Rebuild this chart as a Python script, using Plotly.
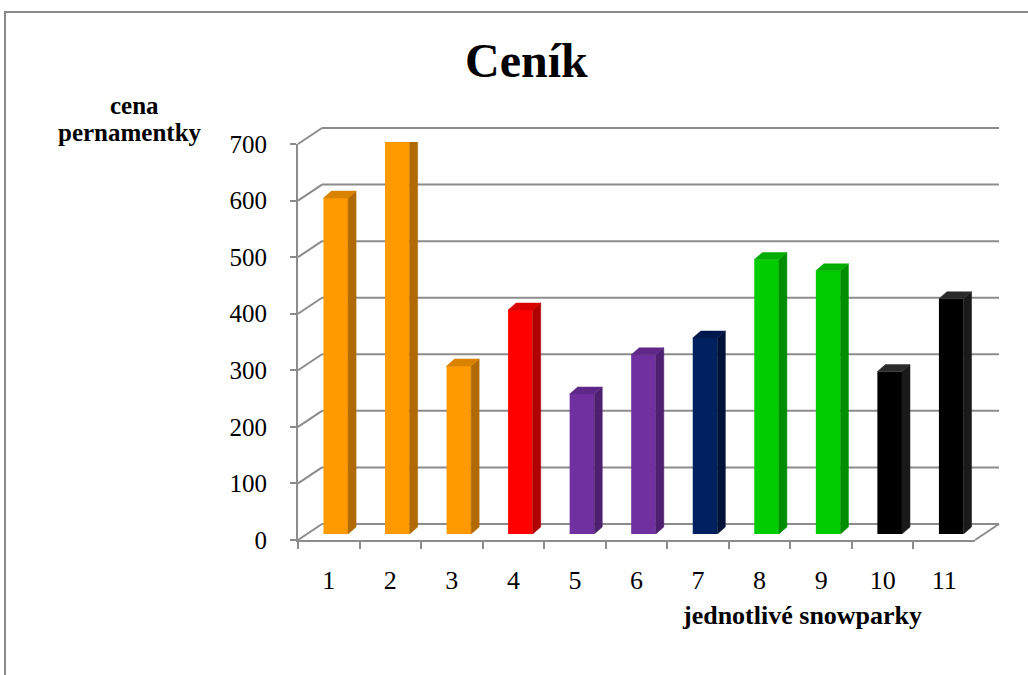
import plotly.graph_objects as go

W, H = 1028, 675

parks = ['1', '2', '3', '4', '5', '6', '7', '8', '9', '10', '11']
prices = [600, 700, 300, 400, 250, 320, 350, 490, 470, 290, 420]
front_colors = ['#FF9900', '#FF9900', '#FF9900', '#FF0000', '#7030A0', '#7030A0',
                '#002060', '#00CC00', '#00CC00', '#000000', '#000000']
side_colors = ['#B06A00', '#B06A00', '#B06A00', '#B00000', '#4E2170', '#4E2170',
               '#001238', '#008E00', '#008E00', '#1A1A1A', '#1A1A1A']
top_colors = ['#D98200', '#D98200', '#D98200', '#D90000', '#5F2888', '#5F2888',
              '#00184C', '#00AD00', '#00AD00', '#2A2A2A', '#2A2A2A']
yticks = [0, 100, 200, 300, 400, 500, 600, 700]

title_text = 'Ceník'
ytitle_lines = ['cena', 'pernamentky']
xtitle_text = 'jednotlivé snowparky'

# ---- geometry (pixels) ----
FX0, FX1 = 298, 975        # front x axis extent
FY0, FY1 = 540, 144        # front y of value 0 and 700
BACK_DX, BACK_DY = 24, 16  # back wall offset
BX0, BX1 = 305, 982        # bar plane x extent
BY0, BY1 = 534, 142        # bar plane y for 0 and 700
VMAX = 700


def px(x):
    return x / W


def py(y):
    return 1 - y / H


def yf(v):
    return FY0 - (FY0 - FY1) * v / VMAX


def yb(v):
    return yf(v) - BACK_DY


SERIF = 'Liberation Serif, Times New Roman, serif'
GRID = '#8C8C8C'

fig = go.Figure()

# invisible trace holding the front category axis
fig.add_trace(go.Scatter(x=parks, y=[0] * len(parks), mode='markers',
                         marker=dict(opacity=0), hoverinfo='skip',
                         showlegend=False, xaxis='x', yaxis='y'))

# bar front faces
xs = list(range(1, len(parks) + 1))
fig.add_trace(go.Bar(x=xs, y=prices, width=0.4, marker=dict(color=front_colors, line=dict(width=0)),
                     showlegend=False, xaxis='x2', yaxis='y2', hoverinfo='skip'))

# 3D side / top faces derived from the values
unit_px = (BX1 - BX0) / len(parks)
dx = 8 / unit_px
dy = 7 / ((BY0 - BY1) / VMAX)
h = 0.2
for x, v, sc, tc in zip(xs, prices, side_colors, top_colors):
    fig.add_trace(go.Scatter(
        x=[x + h, x + h + dx, x + h + dx, x + h, x + h],
        y=[0, dy, v + dy, v, 0], fill='toself', fillcolor=sc, mode='lines',
        line=dict(color=sc, width=0.5), showlegend=False, hoverinfo='skip',
        xaxis='x2', yaxis='y2'))
    fig.add_trace(go.Scatter(
        x=[x - h, x - h + dx, x + h + dx, x + h, x - h],
        y=[v, v + dy, v + dy, v, v], fill='toself', fillcolor=tc, mode='lines',
        line=dict(color=tc, width=0.5), showlegend=False, hoverinfo='skip',
        xaxis='x2', yaxis='y2'))

shapes = []
# outer frame
shapes.append(dict(type='rect', xref='paper', yref='paper', x0=px(5), x1=px(1040),
                   y0=py(700), y1=py(12), line=dict(color='#8A8A8A', width=2), layer='below'))
# back wall gridlines and side-wall diagonals
for v in yticks:
    shapes.append(dict(type='line', xref='paper', yref='paper',
                       x0=px(FX0 + BACK_DX), x1=px(FX1 + BACK_DX),
                       y0=py(yb(v)), y1=py(yb(v)), line=dict(color=GRID, width=2), layer='below'))
    shapes.append(dict(type='line', xref='paper', yref='paper',
                       x0=px(FX0), x1=px(FX0 + BACK_DX),
                       y0=py(yf(v)), y1=py(yb(v)), line=dict(color=GRID, width=2), layer='below'))
# floor right diagonal
shapes.append(dict(type='line', xref='paper', yref='paper',
                   x0=px(FX1), x1=px(FX1 + BACK_DX), y0=py(yf(0)), y1=py(yb(0)),
                   line=dict(color=GRID, width=2), layer='below'))

fig.update_layout(
    width=W, height=H,
    margin=dict(l=0, r=0, t=0, b=0, autoexpand=False),
    paper_bgcolor='white', plot_bgcolor='rgba(0,0,0,0)',
    showlegend=False,
    shapes=shapes,
    xaxis=dict(domain=[px(FX0), px(FX1)], type='category', categoryarray=parks,
               range=[-0.5, len(parks) - 0.5], anchor='y', automargin=False,
               showline=True, linecolor=GRID, linewidth=2,
               ticks='outside', tickson='boundaries', ticklen=7, tickwidth=2, tickcolor=GRID,
               showgrid=False, zeroline=False, ticklabelstandoff=16,
               tickfont=dict(family=SERIF, size=26, color='black')),
    yaxis=dict(domain=[py(FY0), py(FY1)], range=[0, VMAX], anchor='x', automargin=False,
               tickvals=yticks, showline=True, linecolor=GRID, linewidth=2,
               ticks='outside', ticklen=6, tickwidth=2, tickcolor=GRID,
               showgrid=False, zeroline=False, ticklabelstandoff=18,
               tickfont=dict(family=SERIF, size=25, color='black')),
    xaxis2=dict(domain=[px(BX0), px(BX1)], range=[0.5, len(parks) + 0.5], anchor='y2',
                visible=False, fixedrange=True),
    yaxis2=dict(domain=[py(BY0), py(BY1)], range=[0, VMAX], anchor='x2',
                visible=False, fixedrange=True),
    annotations=[
        dict(text='<b>' + title_text + '</b>', xref='paper', yref='paper',
             x=px(526), y=py(60), showarrow=False, xanchor='center', yanchor='middle',
             font=dict(family=SERIF, size=48, color='black')),
        dict(text='<b>' + ytitle_lines[0] + '</b>', xref='paper', yref='paper',
             x=px(134), y=py(105), showarrow=False, xanchor='center', yanchor='middle',
             font=dict(family=SERIF, size=25, color='black')),
        dict(text='<b>' + ytitle_lines[1] + '</b>', xref='paper', yref='paper',
             x=px(130), y=py(133), showarrow=False, xanchor='center', yanchor='middle',
             font=dict(family=SERIF, size=25, color='black')),
        dict(text='<b>' + xtitle_text + '</b>', xref='paper', yref='paper',
             x=px(802), y=py(615), showarrow=False, xanchor='center', yanchor='middle',
             font=dict(family=SERIF, size=26, color='black')),
    ],
)

fig.write_html('out.html', config={'displayModeBar': False},
               post_script="document.body.style.margin='0';document.body.style.overflow='hidden';")
